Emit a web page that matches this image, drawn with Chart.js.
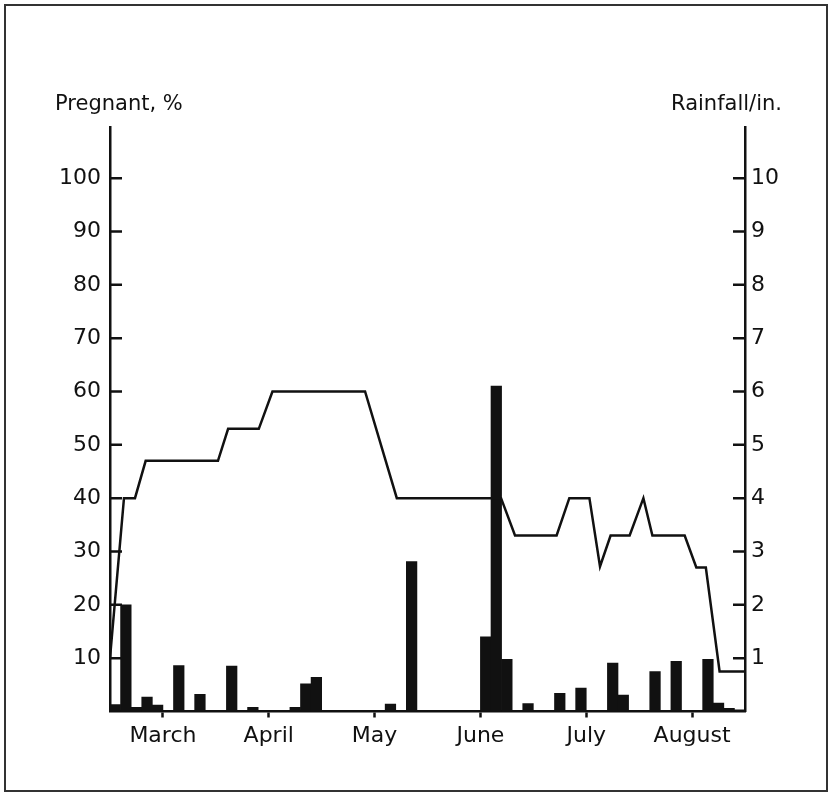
<!DOCTYPE html>
<html>
<head>
<meta charset="utf-8">
<script src="https://cdn.jsdelivr.net/npm/chart.js@4"></script>
<style>
  body { margin: 0; background: #fff; }
  canvas { display: block; }
</style>
</head>
<body>
<canvas id="chart" width="829" height="793"></canvas>
<script>
// x runs in slots of about three days, ten slots per month, March starts at 0
const months = ["March", "April", "May", "June", "July", "August"];
const monthTicks = [5, 15, 25, 35, 45, 55];

// rainfall per slot, inches
const rainfall = [
  0.13, 2.0, 0.08, 0.27, 0.12, 0, 0.86, 0, 0.32, 0,
  0, 0.85, 0, 0.08, 0, 0, 0, 0.08, 0.52, 0.64,
  0, 0, 0, 0, 0, 0, 0.14, 0, 2.81, 0,
  0, 0, 0, 0, 0, 1.4, 6.1, 0.98, 0, 0.15,
  0, 0, 0.34, 0, 0.44, 0, 0, 0.91, 0.31, 0.02,
  0.02, 0.75, 0, 0.94, 0, 0, 0.98, 0.16, 0.06, 0.03
];

// pregnant %, corner points of the line
const pregX = [0, 1.32, 2.36, 3.37, 10.2, 11.16, 14.06, 15.35, 24.1, 27.1, 36.95, 38.27, 42.2,
  43.4, 45.3, 46.3, 47.3, 49.1, 50.4, 51.25, 54.3, 55.4, 56.3, 57.6, 60];
const pregY = [10, 40, 40, 47, 47, 53, 53, 60, 60, 40, 40, 33, 33,
  40, 40, 27.2, 33, 33, 40, 33, 33, 27, 27, 7.5, 7.5];

const pctTicks = [10, 20, 30, 40, 50, 60, 70, 80, 90, 100];
const rainTicks = [1, 2, 3, 4, 5, 6, 7, 8, 9, 10];

const font = { family: "DejaVu Sans", size: 22 };
const ink = "#111";

const extras = {
  id: "extras",
  beforeDraw(chart) {
    const ctx = chart.ctx;
    ctx.save();
    ctx.fillStyle = "#fff";
    ctx.fillRect(0, 0, chart.width, chart.height);
    ctx.strokeStyle = "#333";
    ctx.lineWidth = 2;
    ctx.strokeRect(5, 5, 822, 786);
    ctx.restore();
  },
  afterDraw(chart) {
    const ctx = chart.ctx;
    const { left, right } = chart.chartArea;
    const y = chart.scales.y, y2 = chart.scales.y2;
    ctx.save();
    ctx.strokeStyle = ink;
    ctx.lineWidth = 2.5;
    ctx.beginPath();
    pctTicks.forEach((v) => {
      const py = y.getPixelForValue(v);
      ctx.moveTo(left, py);
      ctx.lineTo(left + 12, py);
    });
    rainTicks.forEach((v) => {
      const py = y2.getPixelForValue(v);
      ctx.moveTo(right, py);
      ctx.lineTo(right - 12, py);
    });
    ctx.stroke();
    ctx.fillStyle = ink;
    ctx.font = `21px "DejaVu Sans"`;
    ctx.textBaseline = "alphabetic";
    ctx.textAlign = "left";
    ctx.fillText("Pregnant, %", 55, 110);
    ctx.textAlign = "right";
    ctx.fillText("Rainfall/in.", 782, 110);
    ctx.restore();
  },
};

new Chart(document.getElementById("chart"), {
  data: {
    datasets: [
      {
        type: "line",
        data: pregX.map((x, i) => ({ x, y: pregY[i] })),
        borderColor: ink,
        borderWidth: 2.5,
        pointRadius: 0,
        tension: 0,
        yAxisID: "y",
        order: 0,
      },
      {
        type: "bar",
        data: rainfall.map((v, i) => ({ x: i + 0.5, y: v })),
        backgroundColor: ink,
        borderWidth: 0,
        barPercentage: 1,
        categoryPercentage: 1,
        yAxisID: "y2",
        order: 1,
      },
    ],
  },
  options: {
    responsive: false,
    animation: false,
    layout: { padding: { top: 127, left: 0, right: 0, bottom: 0 } },
    plugins: { legend: { display: false }, tooltip: { enabled: false } },
    scales: {
      x: {
        type: "linear",
        min: 0,
        max: 60,
        offset: false,
        afterBuildTicks: (s) => { s.ticks = monthTicks.map((value) => ({ value })); },
        afterFit: (s) => { s.height = 81.5; },
        ticks: {
          font,
          color: ink,
          padding: 6,
          maxRotation: 0,
          autoSkip: false,
          callback: (v) => months[monthTicks.indexOf(v)],
        },
        grid: { offset: false, drawOnChartArea: false, drawTicks: true, tickLength: 6, tickWidth: 2.5, color: ink },
        border: { display: true, color: ink, width: 2.5 },
      },
      y: {
        position: "left",
        min: 0,
        max: 109.6,
        afterBuildTicks: (s) => { s.ticks = pctTicks.map((value) => ({ value })); },
        afterFit: (s) => { s.width = 110; },
        ticks: { font, color: ink, padding: 9 },
        grid: { drawOnChartArea: false, drawTicks: false },
        border: { display: true, color: ink, width: 2.5 },
      },
      y2: {
        position: "right",
        min: 0,
        max: 10.96,
        afterBuildTicks: (s) => { s.ticks = rainTicks.map((value) => ({ value })); },
        afterFit: (s) => { s.width = 84; },
        ticks: { font, color: ink, padding: 6 },
        grid: { drawOnChartArea: false, drawTicks: false },
        border: { display: true, color: ink, width: 2.5 },
      },
    },
  },
  plugins: [extras],
});
</script>
</body>
</html>
